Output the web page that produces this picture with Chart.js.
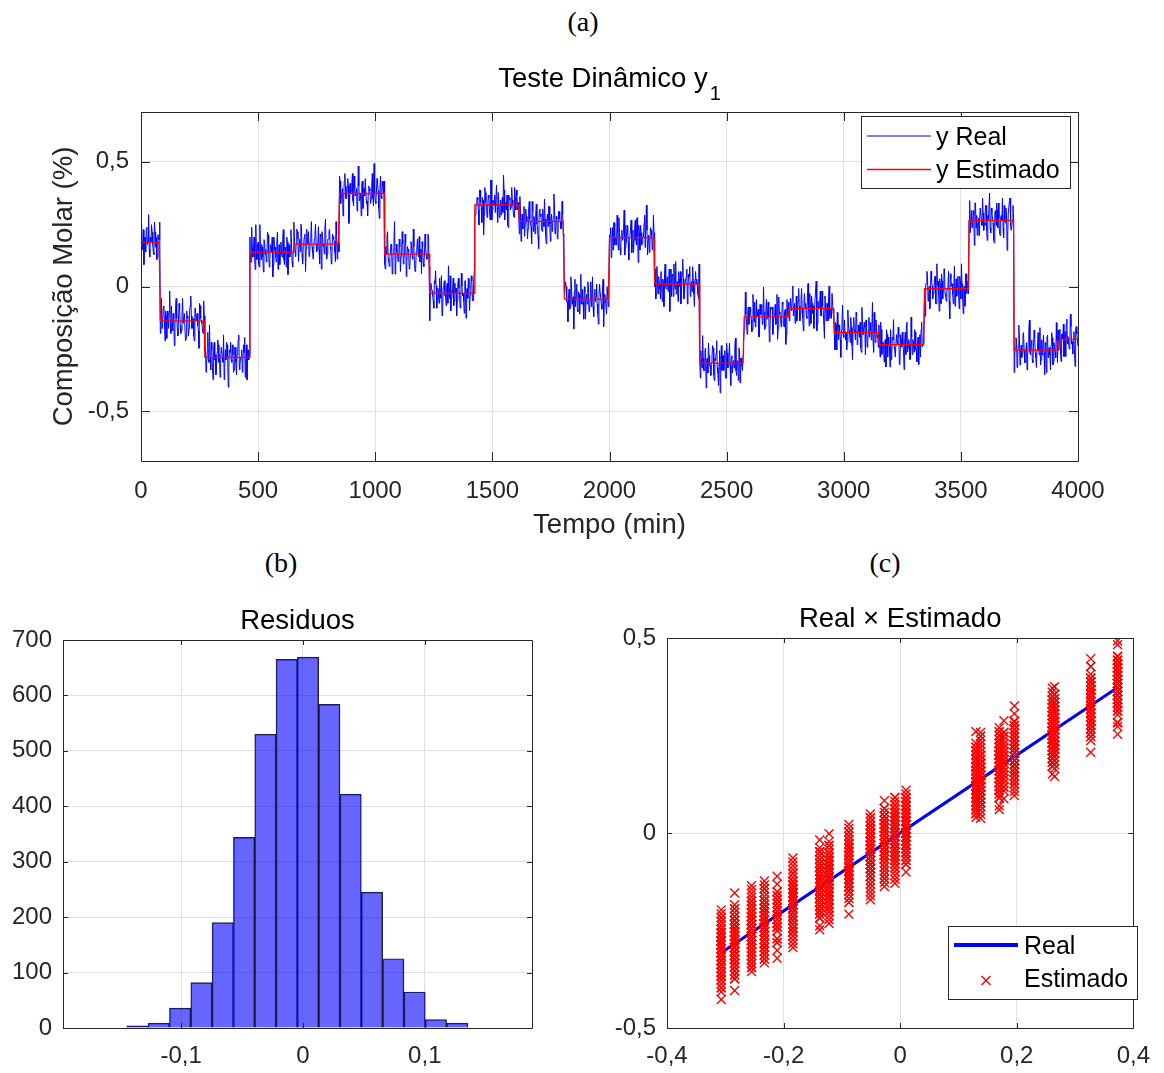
<!DOCTYPE html>
<html>
<head>
<meta charset="utf-8">
<title>Teste Dinâmico y1</title>
<script src="https://cdn.jsdelivr.net/npm/chart.js@4.4.1/dist/chart.umd.min.js"></script>
<style>
  body { margin: 0; background: #fff; }
  #fig { position: relative; width: 1164px; height: 1073px; overflow: hidden; }
  #fig canvas { position: absolute; }
  .tag { position: absolute; font-family: "Liberation Serif", "Times New Roman", serif; font-size: 28px; color: #000; transform: translate(-50%, -50%); white-space: nowrap; }
</style>
</head>
<body>
<div id="fig">
  <div class="tag" style="left:583px;top:22px">(a)</div>
  <div class="tag" style="left:281px;top:563px">(b)</div>
  <div class="tag" style="left:885px;top:563px">(c)</div>
  <canvas id="dyn" width="1164" height="550" style="left:0;top:0"></canvas>
  <canvas id="hist" width="580" height="493" style="left:0;top:580px"></canvas>
  <canvas id="scat" width="584" height="493" style="left:580px;top:580px"></canvas>
</div>
<script>
const FONT = '"Liberation Sans", Arial, Helvetica, sans-serif';
const INK = '#262626';
const GRID = '#dfdfdf';

// record sampled every 5 min, plus the readings taken half-way between
const SAMPLE_MIN = 5;

// estimated composition: start of each step (min) and its level (%)
const stepStart = [0, 82, 272, 463, 655, 847, 1039, 1231, 1423, 1615, 1807,
  1999, 2191, 2383, 2575, 2767, 2959, 3151, 3343, 3535, 3727, 3919];
const stepLevel = [0.178, -0.138, -0.284, 0.138, 0.170, 0.373, 0.130, -0.027, 0.327, 0.261, -0.051,
  0.196, 0.010, -0.307, -0.122, -0.088, -0.184, -0.233, -0.009, 0.265, -0.255, -0.211];

// measured minus estimated, in hundredths of %, at t = 0, 5, 10, ...
const residuals = [
  3,-2,5,1,-4,6,0,-3,2,7, -1,-5,4,2,-6,1,8,-2,-3,5, 0,4,-7,2,3,-1,6,-4,1,-2, 9,-3,0,5,-5,2,-1,3,-8,4,
  1,-3,6,2,-2,-6,5,0,3,-4, 7,1,-1,-5,2,4,-3,10,-2,0, 6,-4,3,-1,-7,2,5,1,-3,4, -2,-9,3,6,0,-4,2,-1,5,-6,
  4,-2,1,7,-5,0,3,-3,2,-8, 5,1,-1,6,-4,2,0,-2,11,-3, 4,-6,1,3,-2,5,-1,-4,8,0, -3,2,6,-5,1,-2,4,-7,3,0,
  -1,5,-3,2,-6,4,1,-2,9,-4, 0,3,-5,6,2,-1,-3,7,-8,1, 4,-2,0,5,-4,3,-1,-6,2,8, -3,1,-2,4,-10,3,0,6,-1,-4,
  2,6,-2,-5,3,1,-7,4,0,-3, 5,-1,2,-4,8,-2,1,3,-6,0, 4,-3,7,-1,2,-5,3,-2,-9,5, 1,-1,6,-3,0,2,-4,4,-2,12,
  -3,1,4,-6,2,-1,5,0,-4,3, 7,-2,-5,1,2,-3,6,-8,4,0, -2,3,-1,9,-4,1,5,-3,2,-6, 0,4,-2,3,-7,1,6,-1,-3,2,
  5,-4,0,3,-2,8,-5,1,2,-1, -6,4,3,-3,0,6,-2,-9,2,5, -1,3,-4,1,7,-2,0,-5,4,2, -3,6,-1,-4,3,0,-8,5,1,-2,
  2,-1,7,-3,4,-5,0,3,-2,6, 1,-7,2,-4,5,0,-1,3,-6,10, -2,1,4,-3,-1,5,-5,2,0,-3, 6,1,-2,-8,4,3,-1,2,-4,7,
  -2,4,1,-5,3,0,-3,6,-1,2, -7,5,1,-2,8,-4,0,3,-1,-6, 4,2,-3,5,-2,1,-9,3,6,-1, 0,-4,2,7,-3,1,-5,4,0,-2,
  3,-6,2,5,-1,0,-4,9,-2,1, 3,-3,6,-5,2,0,-1,4,-8,3, 1,-2,5,-4,7,0,-3,2,-1,6, -6,1,3,-2,4,-11,2,0,5,-3,
  1,4,-2,-5,6,0,-3,2,8,-4, 1,-1,3,-7,5,2,-2,0,4,-6, 3,-1,7,-3,1,5,-5,2,-2,0, 9,-4,3,-1,-6,4,1,-3,2,6,
  -4,0,3,-2,5,-7,1,4,-1,2, -3,6,0,-5,3,8,-2,-4,1,5, -1,-8,4,2,-3,0,6,-2,3,-5, 1,7,-4,2,0,-1,-6,3,5,-2,
  2,-3,6,1,-4,3,-1,0,7,-5, 2,4,-2,-9,5,1,-3,3,0,-6, 8,-2,4,-1,2,-4,1,6,-3,0, -7,5,2,-1,3,-5,10,-2,1,-3,
  4,-1,-5,2,6,-3,0,3,-8,1, 5,-2,2,-4,7,-1,0,-6,3,4, -2,1,-3,9,-5,2,0,-1,5,-4, 3,-7,1,6,-2,0,4,-3,2,-1,
  -5,3,1,-2,8,-4,2,0,-3,5, -1,6,-6,2,1,-2,4,-9,3,0, 7,-3,1,-1,5,-5,2,3,-4,0, 6,-2,-1,4,-7,2,3,-3,1,11,
  -2,5,0,-4,3,-1,6,-5,2,1, -3,7,-2,0,4,-8,3,-1,2,5, -6,1,-2,4,0,-3,8,-4,2,-1, 3,-5,6,0,-2,1,-9,4,3,-1,
  6,-3,2,-1,-5,4,0,3,-7,2, 5,-2,1,-4,9,-1,0,-6,3,2, -3,5,-2,1,-8,4,6,-1,0,-3, 2,7,-5,1,-2,3,-4,0,5,-6,
  1,-2,4,-6,3,0,8,-3,-1,2, -5,6,1,-2,0,-7,4,3,-1,5, -4,2,-10,1,6,-2,3,0,-5,4, -1,2,7,-3,-6,1,0,5,-2,3,
  -1,6,-4,2,0,-3,5,1,-8,3, -2,4,7,-5,1,0,-3,6,-1,2, -6,3,9,-4,0,1,-2,5,-7,2, 4,-1,-3,6,0,-5,3,-2,8,-1,
  2,-4,1,5,-3,0,7,-2,-6,4, 1,-1,3,-9,6,0,-2,2,5,-5, 1,-3,4,8,-1,-4,2,0,-7,3, 6,-2,1,-3,5,-1,0,-6,4,2,
  -3
];

// same, at t = 2.5, 7.5, 12.5, ...
const residualsHalf = [
  7,-3,-9,2,5,-1,11,-6,0,4, -4,8,-2,-7,3,1,-5,9,-1,6, -8,2,4,-3,12,-5,0,3,-10,5, 1,-6,7,-2,-4,9,-1,3,-7,2,
  -6,4,10,-3,1,-8,5,2,-2,-11, 6,0,-4,8,3,-6,2,-1,13,-5, 3,-9,6,1,-3,7,-2,-8,4,0, 9,-4,-1,5,-12,3,6,-2,1,-5,
  4,-7,2,9,-3,0,-6,5,8,-1, -9,3,1,-4,10,-2,6,-7,0,3, -5,11,-3,2,-8,4,1,-2,7,-6, 3,0,-10,6,2,-4,8,-1,-5,4,
  -2,9,-5,1,6,-9,3,-1,4,-6, 12,-3,0,5,-7,2,8,-4,-1,3, -11,6,2,-5,1,9,-3,-6,4,0, -2,7,-8,3,5,-1,-4,10,-6,2,
  5,-1,-8,4,2,-3,9,-6,1,7, -4,0,-9,5,3,-2,6,-12,4,1, 8,-5,2,-1,-7,11,-3,0,4,-6, 2,6,-4,-9,3,1,-2,8,-5,0,
  -4,6,1,-10,7,-2,3,5,-6,0, 9,-3,-1,4,-8,2,13,-5,1,-3, 6,-7,0,4,-2,8,-9,3,1,-5, 5,-1,10,-4,-6,2,0,7,-3,-8,
  3,-5,8,0,-2,6,-11,4,1,-3, 5,9,-6,2,-4,0,7,-8,3,-1, -5,4,11,-2,-7,1,6,-3,0,-9, 4,2,-6,8,-1,-3,5,-10,2,6,
  -7,1,5,-3,9,-4,0,2,-8,6, -1,3,-12,7,1,-5,4,-2,10,-6, 2,0,-3,8,-7,5,-1,-4,3,12, -6,1,4,-9,2,-2,7,0,-5,3,
  6,-2,-4,10,-8,3,1,-6,5,0, -3,8,-1,-9,4,2,-5,7,-2,-11, 5,3,-4,1,9,-6,0,-2,6,-8, 3,-1,11,-5,2,-7,4,1,-3,8,
  -5,2,7,-1,-9,4,-3,6,0,-12, 8,1,-4,3,-6,10,-2,-1,5,-8, 2,7,-5,0,-3,9,-7,4,1,-2, -10,6,3,-4,8,-1,0,-6,5,2,
  1,-8,4,6,-3,-1,9,-5,2,-7, 3,0,11,-4,-2,5,-9,1,7,-3, -6,4,-1,8,-10,2,5,-3,0,6, -4,13,-7,1,-2,3,-5,9,-1,-6,
  7,-4,0,-6,5,2,-9,8,-2,3, -1,-11,6,4,-5,1,9,-3,-7,2, 5,-2,10,-6,0,3,-8,4,7,-1, -3,1,-9,5,2,-4,8,-6,0,11,
  -3,5,-10,2,8,-1,-5,3,6,-7, 1,9,-4,0,-12,7,2,-3,5,-6, 4,-1,8,-9,3,0,-2,10,-5,1, 6,-8,2,-3,9,-4,1,-7,4,0,
  2,-6,9,-2,-4,7,0,-8,5,1, -3,12,-5,2,-1,6,-10,4,3,-7, 0,5,-2,-9,8,1,-4,6,-3,2, -11,7,0,-5,4,-1,9,-3,-6,5,
  -1,8,-5,3,0,-9,6,2,-4,10, -7,1,5,-2,-8,4,11,-6,0,3, -3,7,-1,-12,5,2,-5,9,-2,-4, 6,0,-7,3,8,-3,1,-10,4,-1,
  5,-3,-7,9,1,-4,2,-11,6,0, 8,-5,3,-2,-6,10,-1,4,-9,2, -4,6,1,-3,12,-8,0,5,-2,-6, 3,9,-4,1,-7,2,6,-5,0,-9,
  -6,3,10,-2,-5,1,7,-8,4,-1, 0,-10,5,8,-3,2,-6,11,-4,1, 6,-2,-7,3,0,-5,9,-1,4,-11, 2,5,-3,-8,7,1,-2,4,-6,10,
  3,-9,1,6,-4,8,-2,-5,0,7, -12,4,2,-6,9,-1,-3,5,-8,3, 10,-4,0,-7,6,1,-2,8,-5,-3, 4,-10,7,2,-1,-6,5,0,9,-4,
  -2,6,-8,0,11,-5,3,-1,-9,4, 7,-3,1,-6,2,9,-7,0,5,-12, 3,8,-2,-4,6,-9,1,4,-3,10, -6,2,-1,7,-5,0,-8,3,12,-2,
  4,-5,8,-1,-7,3,0,9,-4,-2, 6,-10,2,5,-3,1,-8,7,-6,3, -1,11,-5,0,4,-9,2,6,-3,-7, 8,1,-4,10,-2,-6,3,-11,5,0
];

// residual histogram (full 1-min record)
const binEdges = [-0.1446, -0.1271, -0.1096, -0.0921, -0.0746, -0.0571, -0.0396, -0.0221, -0.0046,
  0.0129, 0.0304, 0.0479, 0.0654, 0.0829, 0.1004, 0.1179, 0.1354];
const binCounts = [4, 9, 36, 82, 190, 344, 530, 665, 669, 584, 422, 245, 125, 65, 15, 9];

// tick values
const timeTicks = [0, 500, 1000, 1500, 2000, 2500, 3000, 3500, 4000];
const compTicks = [-0.5, 0, 0.5];
const histXTicks = [-0.1, 0, 0.1];
const histYTicks = [0, 100, 200, 300, 400, 500, 600, 700];
const scatXTicks = [-0.4, -0.2, 0, 0.2, 0.4];
const scatYTicks = [-0.5, 0, 0.5];

// merge both reading grids in time order
const times = [];
const resid = [];
residuals.forEach((r, k) => {
  times.push(k * SAMPLE_MIN); resid.push(r);
  if (k < residualsHalf.length) { times.push(k * SAMPLE_MIN + SAMPLE_MIN / 2); resid.push(residualsHalf[k]); }
});
const levelAt = t => {
  let k = 0;
  while (k + 1 < stepStart.length && stepStart[k + 1] <= t) k++;
  return stepLevel[k];
};
const yEst = times.map(levelAt);
const yReal = yEst.map((v, i) => +(v + resid[i] / 100).toFixed(3));

const fmt = v => String(+(+v).toFixed(4)).replace('.', ',');
const useTicks = list => s => { s.ticks = list.map(value => ({ value })); };

// MATLAB-like box with inward tick marks on all four sides
const axesBox = {
  id: 'axesBox',
  afterDatasetsDraw(chart, _args, o) {
    const { ctx, chartArea: a, scales } = chart;
    const len = o.tickLen;
    ctx.save();
    ctx.strokeStyle = INK;
    ctx.lineWidth = 1;
    ctx.beginPath();
    scales.x.ticks.forEach(t => {
      const px = Math.round(scales.x.getPixelForValue(t.value)) + 0.5;
      ctx.moveTo(px, a.bottom); ctx.lineTo(px, a.bottom - len);
      ctx.moveTo(px, a.top); ctx.lineTo(px, a.top + len);
    });
    scales.y.ticks.forEach(t => {
      const py = Math.round(scales.y.getPixelForValue(t.value)) + 0.5;
      ctx.moveTo(a.left, py); ctx.lineTo(a.left + len, py);
      ctx.moveTo(a.right, py); ctx.lineTo(a.right - len, py);
    });
    ctx.rect(Math.round(a.left) + 0.5, Math.round(a.top) + 0.5,
      Math.round(a.right - a.left), Math.round(a.bottom - a.top));
    ctx.stroke();
    ctx.restore();
  }
};

// panel title, optional subscript
const panelTitle = {
  id: 'panelTitle',
  afterDraw(chart, _args, o) {
    const { ctx, chartArea: a } = chart;
    ctx.save();
    ctx.fillStyle = '#000';
    ctx.textAlign = 'left';
    ctx.textBaseline = 'alphabetic';
    const mainFont = `${o.size}px ${FONT}`;
    const subFont = `${o.subSize || 20}px ${FONT}`;
    ctx.font = mainFont;
    const w = ctx.measureText(o.text).width;
    let sw = 0;
    if (o.sub) { ctx.font = subFont; sw = ctx.measureText(o.sub).width + 2; }
    const x0 = (a.left + a.right) / 2 - (w + sw) / 2;
    const base = a.top - o.gap;
    ctx.font = mainFont;
    ctx.fillText(o.text, x0, base);
    if (o.sub) { ctx.font = subFont; ctx.fillText(o.sub, x0 + w + 2, base + o.subDrop); }
    ctx.restore();
  }
};

// boxed legend inside the axes
const insetLegend = {
  id: 'insetLegend',
  afterDraw(chart, _args, o) {
    const { ctx } = chart;
    ctx.save();
    ctx.fillStyle = '#fff';
    ctx.fillRect(o.x, o.y, o.w, o.h);
    ctx.strokeStyle = INK;
    ctx.lineWidth = 1;
    ctx.strokeRect(o.x + 0.5, o.y + 0.5, o.w, o.h);
    ctx.font = `${o.size}px ${FONT}`;
    ctx.textBaseline = 'middle';
    ctx.textAlign = 'left';
    chart.data.datasets.forEach((ds, i) => {
      const cy = o.rows[i];
      ctx.strokeStyle = ds.borderColor;
      ctx.lineWidth = ds.legendWidth || ds.borderWidth;
      ctx.beginPath();
      if (ds.showLine === false) {
        const cx = (o.sample[0] + o.sample[1]) / 2;
        const r = ds.pointRadius * Math.SQRT1_2;
        ctx.moveTo(cx - r, cy - r); ctx.lineTo(cx + r, cy + r);
        ctx.moveTo(cx - r, cy + r); ctx.lineTo(cx + r, cy - r);
      } else {
        ctx.moveTo(o.sample[0], cy + o.lineDy); ctx.lineTo(o.sample[1], cy + o.lineDy);
      }
      ctx.stroke();
      ctx.fillStyle = '#000';
      ctx.fillText(ds.label, o.textX, cy);
    });
    ctx.restore();
  }
};

const tickFont = { family: FONT, size: 24 };
const axisTitleFont = { family: FONT, size: 27.5 };
const gridOpts = { color: GRID, lineWidth: 1, drawTicks: false, offset: false };
const base = { responsive: false, animation: false, devicePixelRatio: 1, events: [] };

// (a) dynamic test
new Chart(document.getElementById('dyn'), {
  type: 'line',
  data: {
    datasets: [
      { label: 'y Real', data: times.map((t, i) => ({ x: t, y: yReal[i] })),
        borderColor: '#0000ff', borderWidth: 1, pointRadius: 0, tension: 0, order: 1 },
      { label: 'y Estimado', data: times.map((t, i) => ({ x: t, y: yEst[i] })),
        borderColor: '#ff0000', borderWidth: 1.3, pointRadius: 0, tension: 0, order: 0 }
    ]
  },
  options: {
    ...base,
    layout: { padding: { top: 112, right: 86, left: 0, bottom: 0 } },
    plugins: {
      legend: { display: false }, tooltip: { enabled: false },
      axesBox: { tickLen: 9 },
      panelTitle: { text: 'Teste Dinâmico y', sub: '1', size: 27.5, subSize: 20, subDrop: 13, gap: 25 },
      insetLegend: { x: 861, y: 116, w: 209, h: 72, rows: [138, 171.5], lineDy: -2,
        sample: [867, 931], textX: 936, size: 25 }
    },
    scales: {
      x: {
        type: 'linear', min: 0, max: 4000,
        afterBuildTicks: useTicks(timeTicks),
        afterFit: s => { s.height = 89; },
        grid: gridOpts, border: { display: false },
        ticks: { font: tickFont, color: INK, padding: 16, maxRotation: 0, callback: fmt },
        title: { display: true, text: 'Tempo (min)', font: axisTitleFont, color: INK, padding: { top: 0, bottom: 8 } }
      },
      y: {
        min: -0.7, max: 0.7,
        afterBuildTicks: useTicks(compTicks),
        afterFit: s => { s.width = 141; },
        grid: gridOpts, border: { display: false },
        ticks: { font: tickFont, color: INK, padding: 12, callback: fmt },
        title: { display: true, text: 'Composição Molar (%)', font: axisTitleFont, color: INK, padding: { top: 48, bottom: 0 } }
      }
    }
  },
  plugins: [axesBox, panelTitle, insetLegend]
});

// (b) residual histogram
new Chart(document.getElementById('hist'), {
  type: 'bar',
  data: {
    datasets: [{
      label: 'Residuos',
      data: binCounts.map((c, i) => ({ x: (binEdges[i] + binEdges[i + 1]) / 2, y: c })),
      backgroundColor: 'rgba(0,0,255,0.6)', borderColor: 'rgba(0,0,0,0.85)', borderWidth: 0.8,
      barPercentage: 1, categoryPercentage: 1
    }]
  },
  options: {
    ...base,
    layout: { padding: { top: 60, right: 48, left: 0, bottom: 0 } },
    plugins: {
      legend: { display: false }, tooltip: { enabled: false },
      axesBox: { tickLen: 5 },
      panelTitle: { text: 'Residuos', size: 27.5, gap: 11 }
    },
    scales: {
      x: {
        type: 'linear', min: -0.197, max: 0.188, offset: false,
        afterBuildTicks: useTicks(histXTicks),
        afterFit: s => { s.height = 45; },
        grid: gridOpts, border: { display: false },
        ticks: { font: tickFont, color: INK, padding: 14, maxRotation: 0, callback: fmt }
      },
      y: {
        min: 0, max: 700,
        afterBuildTicks: useTicks(histYTicks),
        afterFit: s => { s.width = 63; },
        grid: gridOpts, border: { display: false },
        ticks: { font: tickFont, color: INK, padding: 11, callback: fmt }
      }
    }
  },
  plugins: [axesBox, panelTitle]
});

// (c) measured against estimated
new Chart(document.getElementById('scat'), {
  type: 'scatter',
  data: {
    datasets: [
      { label: 'Real', data: yEst.map(v => ({ x: v, y: v })), showLine: true,
        borderColor: '#0000ff', borderWidth: 3, legendWidth: 4, pointRadius: 0, order: 1 },
      { label: 'Estimado', data: yEst.map((v, i) => ({ x: v, y: yReal[i] })), showLine: false,
        pointStyle: 'crossRot', pointRadius: 6.3, borderColor: '#ff0000', backgroundColor: '#ff0000',
        borderWidth: 1.4, order: 0 }
    ]
  },
  options: {
    ...base,
    layout: { padding: { top: 58, right: 27, left: 0, bottom: 0 } },
    plugins: {
      legend: { display: false }, tooltip: { enabled: false },
      axesBox: { tickLen: 5 },
      panelTitle: { text: 'Real × Estimado', size: 27.5, gap: 11 },
      insetLegend: { x: 368, y: 346, w: 189, h: 73, rows: [367, 400.5], lineDy: -2,
        sample: [374, 438], textX: 444, size: 25 }
    },
    scales: {
      x: {
        type: 'linear', min: -0.4, max: 0.4,
        afterBuildTicks: useTicks(scatXTicks),
        afterFit: s => { s.height = 45; },
        grid: gridOpts, border: { display: false },
        ticks: { font: tickFont, color: INK, padding: 14, maxRotation: 0, callback: fmt }
      },
      y: {
        min: -0.5, max: 0.5,
        afterBuildTicks: useTicks(scatYTicks),
        afterFit: s => { s.width = 87; },
        grid: gridOpts, border: { display: false },
        ticks: { font: tickFont, color: INK, padding: 11, callback: fmt }
      }
    }
  },
  plugins: [axesBox, panelTitle, insetLegend]
});
</script>
</body>
</html>
